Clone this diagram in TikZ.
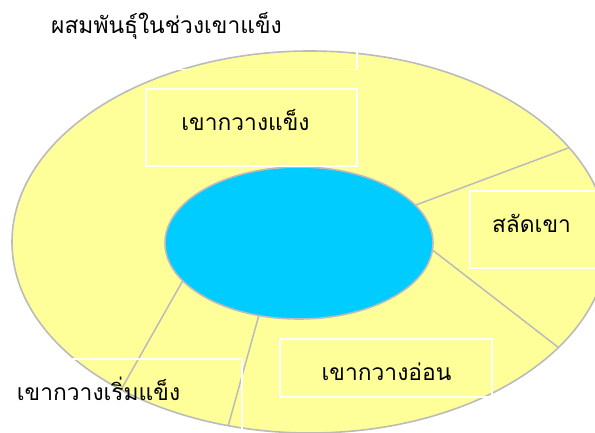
\documentclass[tikz,border=0pt]{standalone}
\usepackage{fontspec}
\newfontfamily\thaifont[Script=Thai]{Loma}
\usetikzlibrary{shapes.geometric}
\definecolor{pyellow}{HTML}{FFFF99}
\definecolor{pgray}{HTML}{BBBBBB}
\definecolor{pcyan}{HTML}{00CCFF}
\tikzset{
  ring/.style={ellipse, fill=pyellow, draw=pgray, line width=1.6pt, inner sep=0pt, outer sep=0pt},
  hub/.style={ellipse, fill=pcyan, draw=pgray, line width=1.6pt, inner sep=0pt, outer sep=0pt},
  spoke/.style={draw=pgray, line width=1.5pt},
  wbox/.style={rectangle, draw=white, line width=1.6pt, inner sep=0pt, outer sep=0pt},
  lbl/.style={font=\thaifont\fontsize{22.8}{27}\selectfont, text=black, inner sep=0pt, anchor=base}
}
\begin{document}
\begin{tikzpicture}[x=1pt,y=-1pt]
\useasboundingbox (0,0) rectangle (595,433);
\fill[white] (0,0) rectangle (595,433);
\begin{scope}
\clip (0,0) rectangle (595,433);
\node[ring, minimum width=596pt, minimum height=382pt] (outer) at (310,242) {};
\node[hub, minimum width=268pt, minimum height=152pt] (inner) at (299,243) {};
\draw[spoke] (inner.18.7) -- (outer.20.3);
\draw[spoke] (inner.-3.8) -- (outer.-23.9);
\draw[spoke] (inner.241.9) -- (outer.-114.8);
\draw[spoke] (inner.198.6) -- (outer.218.7);
% boxes
\node[wbox, minimum width=327pt, minimum height=69.5pt] (btitle) at (193.5,34.75) {};
\node[wbox, minimum width=211pt, minimum height=77pt] (bhard) at (251.5,127.5) {};
\node[wbox, minimum width=140pt, minimum height=77pt] (bshed) at (540,229.5) {};
\node[wbox, minimum width=212pt, minimum height=58pt] (bsoft) at (386,368) {};
\node[wbox, minimum width=172pt, minimum height=90pt] (bbegin) at (156,404) {};
\end{scope}
% texts
\node[lbl] (ttitle) at (166.5,34) {ผสมพันธุ์ในช่วงเขาแข็ง};
\node[lbl] (thard) at (245.5,131) {เขากวางแข็ง};
\node[lbl] (tshed) at (531.5,233) {สลัดเขา};
\node[lbl] (tsoft) at (386.5,380) {เขากวางอ่อน};
\node[lbl] (tbegin) at (98.5,400) {เขากวางเริ่มแข็ง};
\end{tikzpicture}
\end{document}
